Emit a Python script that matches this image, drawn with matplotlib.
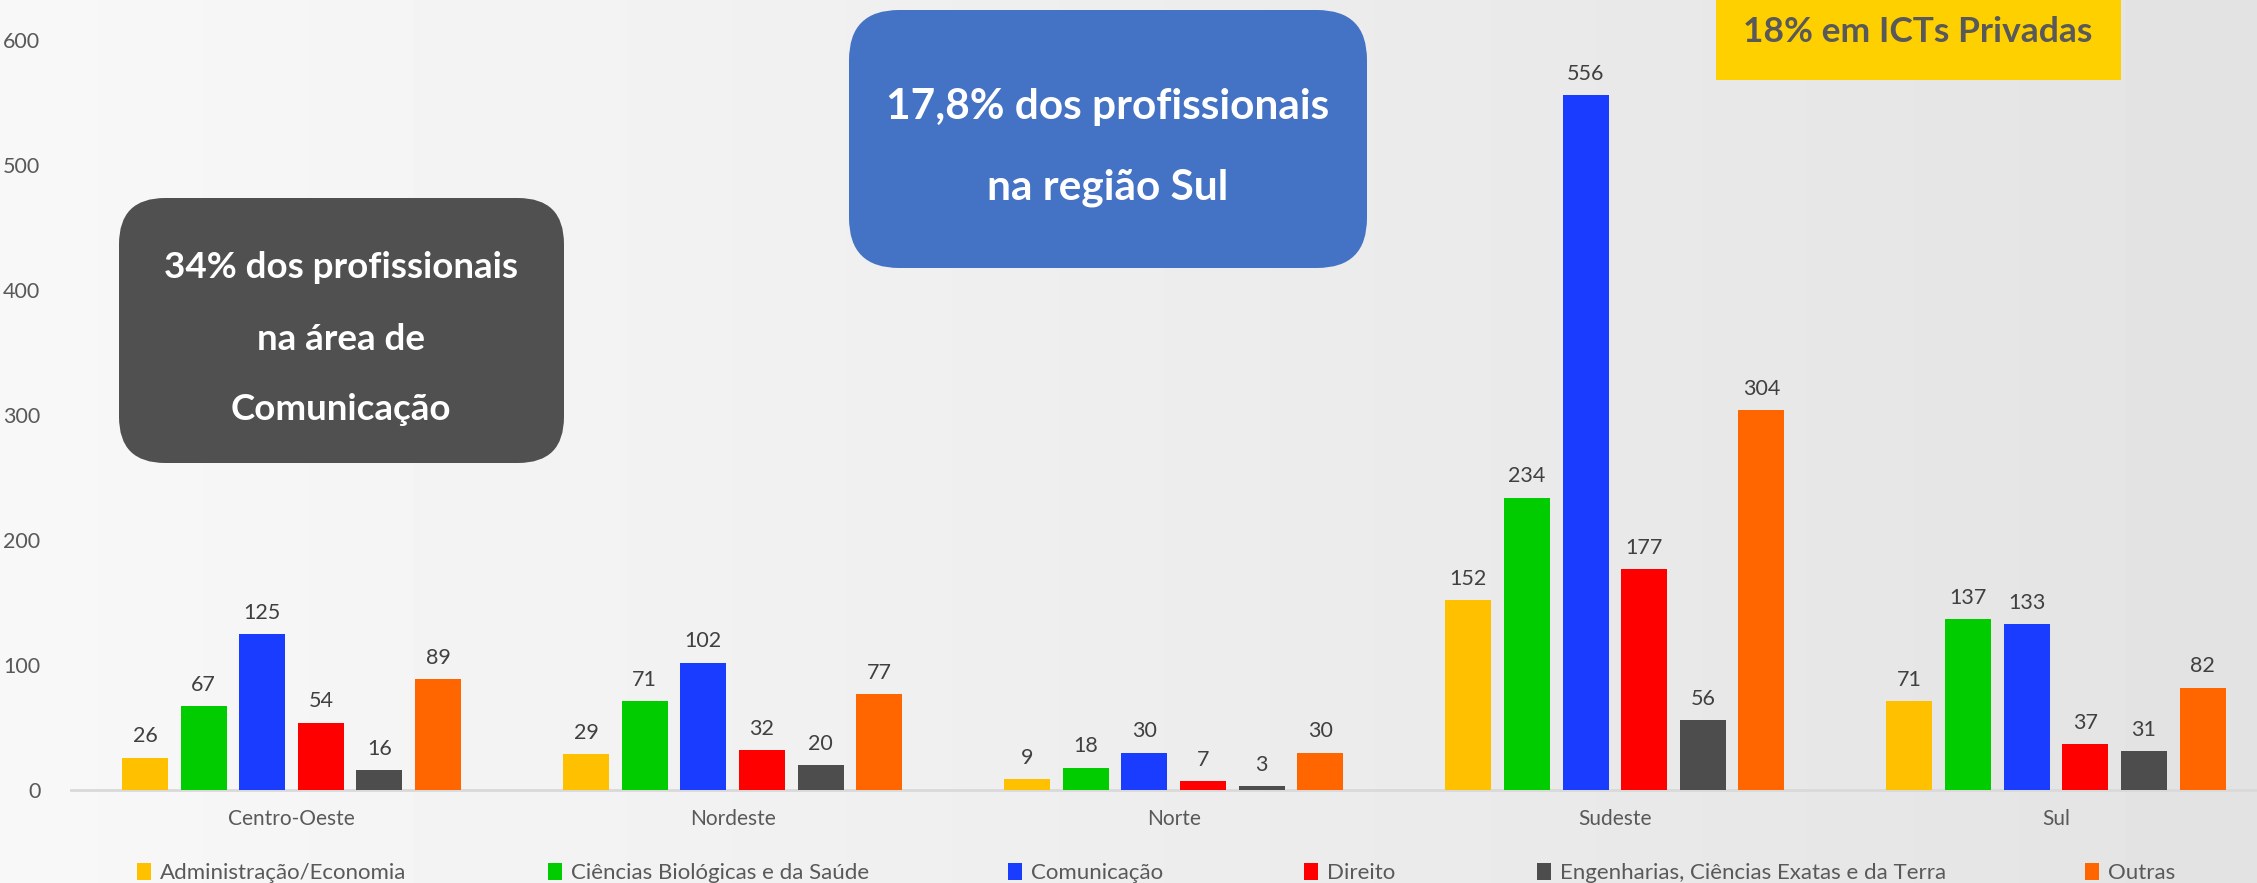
import numpy as np
import matplotlib
matplotlib.use("Agg")
import matplotlib.pyplot as plt
from matplotlib.patches import FancyBboxPatch, Rectangle, Patch
from matplotlib.transforms import IdentityTransform

# ---------------- data ----------------
regions = ["Centro-Oeste", "Nordeste", "Norte", "Sudeste", "Sul"]
areas = ["Administração/Economia", "Ciências Biológicas e da Saúde", "Comunicação",
         "Direito", "Engenharias, Ciências Exatas e da Terra", "Outras"]
admin = [26, 29, 9, 152, 71]
biologicas = [67, 71, 18, 234, 137]
comunicacao = [125, 102, 30, 556, 133]
direito = [54, 32, 7, 177, 37]
engenharias = [16, 20, 3, 56, 31]
outras = [89, 77, 30, 304, 82]
series = [admin, biologicas, comunicacao, direito, engenharias, outras]
colors = ["#FFC000", "#00CC00", "#1A3CFF", "#FF0000", "#4D4D4D", "#FF6600"]
yticks = [0, 100, 200, 300, 400, 500, 600]

box1_lines = ["34% dos profissionais", "na área de", "Comunicação"]
box2_lines = ["17,8% dos profissionais", "na região Sul"]
box3_text = "18% em ICTs Privadas"

# ---------------- layout ----------------
W, H = 2257, 883
DPI = 100
plt.rcParams["font.family"] = ["Lato", "DejaVu Sans"]

fig = plt.figure(figsize=(W / DPI, H / DPI), dpi=DPI)

# background gradient
bg = fig.add_axes([0, 0, 1, 1], zorder=-10)
grad = np.linspace(0.972, 0.89, 256)[None, :]
bg.imshow(grad, aspect="auto", cmap="gray", vmin=0, vmax=1, extent=[0, 1, 0, 1])
bg.set_axis_off()

def px(x, y):
    return x / W, 1 - y / H

left_px, right_px = 71, 2276.5
top_px, bottom_px = 40, 790
ax = fig.add_axes([left_px / W, (H - bottom_px) / H, (right_px - left_px) / W,
                   (bottom_px - top_px) / H])
ax.set_facecolor("none")

x = np.arange(len(regions))
step = 0.1329
width = 0.1043
offsets = (np.arange(len(series)) - (len(series) - 1) / 2) * step
for vals, col, off, name in zip(series, colors, offsets, areas):
    bars = ax.bar(x + off, vals, width=width, color=col, label=name, zorder=3)
    ax.bar_label(bars, padding=8, fontsize=15.5, color="#404040")

ax.set_xlim(-0.5, len(regions) - 0.5)
ax.set_ylim(0, 600)
ax.set_yticks(yticks)
ax.set_xticks(x)
ax.set_xticklabels(regions)
ax.tick_params(axis="y", length=0, pad=22, labelsize=15.5, labelcolor="#595959")
ax.tick_params(axis="x", length=0, pad=14, labelsize=15, labelcolor="#595959")
for s in ["top", "right", "left"]:
    ax.spines[s].set_visible(False)
ax.spines["bottom"].set_color("#D9D9D9")
ax.spines["bottom"].set_linewidth(2)

# legend entries (one per area, positioned along the bottom)
legend_x = [137, 548, 1008, 1304, 1537, 2085]
for name, col, lx in zip(areas, colors, legend_x):
    h = Patch(facecolor=col, edgecolor="none")
    lg = fig.legend([h], [name], loc="center left",
                    bbox_to_anchor=(lx / W - 0.0001, (H - 873) / H),
                    frameon=False, fontsize=16, borderpad=0, borderaxespad=0,
                    handlelength=0.64, handleheight=0.85, handletextpad=0.42)
    for t in lg.get_texts():
        t.set_color("#595959")

# annotation boxes (pixel coordinates, top-left origin converted)
ident = IdentityTransform()
b1 = FancyBboxPatch((119, H - 463), 564 - 119, 463 - 198,
                    boxstyle="round,pad=0,rounding_size=46",
                    facecolor="#505050", edgecolor="none", transform=ident,
                    zorder=5)
fig.patches.append(b1)
for line, yy in zip(box1_lines, [267, 340, 410]):
    fig.text(*px(341, yy), line, ha="center", va="center", color="white",
             fontsize=26.5, fontweight="bold", zorder=6)

b2 = FancyBboxPatch((849, H - 268), 1367 - 849, 268 - 10,
                    boxstyle="round,pad=0,rounding_size=50",
                    facecolor="#4472C4", edgecolor="none", transform=ident,
                    zorder=5)
fig.patches.append(b2)
for line, yy in zip(box2_lines, [107, 188]):
    fig.text(*px(1108, yy), line, ha="center", va="center", color="white",
             fontsize=30.5, fontweight="bold", zorder=6)

b3 = Rectangle((1716, H - 80), 2121 - 1716, 85, facecolor="#FFD000",
               edgecolor="none", transform=ident, zorder=5)
fig.patches.append(b3)
fig.text(*px(1918, 32), box3_text, ha="center", va="center", color="#595959",
         fontsize=25.5, fontweight="bold", zorder=6)

fig.savefig("out.png", dpi=DPI)
